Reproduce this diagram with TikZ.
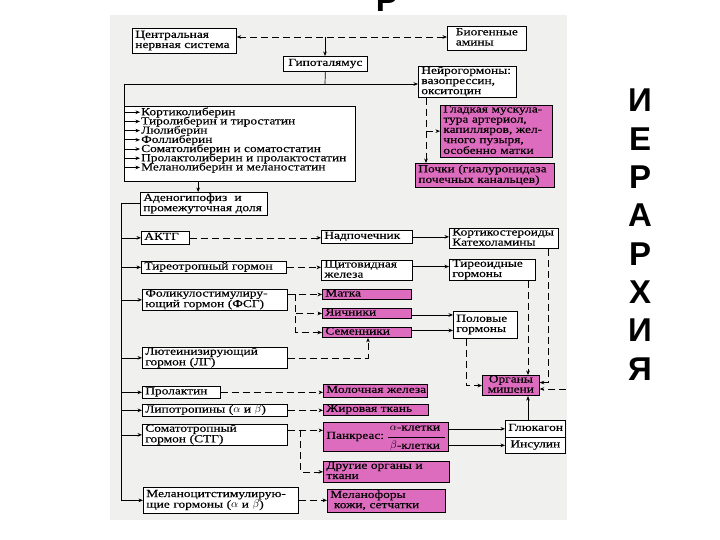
\documentclass[tikz,border=0pt]{standalone}
\usepackage{fontspec}
\setmainfont{Liberation Serif}[FakeStretch=1.24,FakeBold=0.25]
\newfontfamily\hfont{Liberation Sans}
\usetikzlibrary{arrows.meta,calc}
\definecolor{pinkc}{RGB}{222,108,190}
\definecolor{bgc}{RGB}{240,240,238}
\newcommand\dgfont{\fontsize{10.8}{10.2}\selectfont}
\newcommand\tb[1]{\begin{tabular}{@{}l@{}}#1\end{tabular}}
\newcommand\tbc[1]{\begin{tabular}{@{}c@{}}#1\end{tabular}}
\tikzset{
  basebox/.style={font=\dgfont, inner xsep=3pt, inner ysep=0pt, anchor=north west, align=left,
    draw=black, line width=0.7pt},
  bx/.style={basebox, fill=white},
  pbx/.style={basebox, fill=pinkc},
  txt/.style={font=\dgfont, inner sep=0pt, anchor=west},
  listtxt/.style={font=\fontsize{10.8}{9.2}\selectfont, inner sep=0pt, anchor=north west, align=left},
  big/.style={font=\hfont\bfseries\fontsize{33}{33}\selectfont, inner sep=0pt, anchor=base},
  arr/.style={-{Stealth[length=4.5pt,width=3.6pt]}},
  dsh/.style={dash pattern=on 7pt off 4pt},
  ln/.style={line width=0.7pt}
}
\begin{document}
\begin{tikzpicture}[x=1pt,y=-1pt]
\useasboundingbox (0,0) rectangle (720,540);
\fill[white] (0,0) rectangle (720,540);
\fill[bgc] (110,15) rectangle (567,520);

% headings
\node[big] (tp) at (387,12) {Р};
\foreach \l [count=\i from 0] in {И,Е,Р,А,Р,Х,И,Я}
  \node[big] (v\i) at (640,112+38.3*\i) {\l};

% boxes
\node[bx, text width=98pt, minimum height=25pt] (cns) at (132,28) {\tb{Центральная\\нервная система}};
\node[bx, text width=73pt, minimum height=24pt, align=center] (bio) at (447,26) {\tb{Биогенные\\амины}};
\node[bx, text width=78pt, minimum height=15pt, align=center] (hyp) at (283,56) {\tb{Гипоталямус}};
\node[bx, text width=92pt, minimum height=31pt] (neuro) at (418,66) {\tb{Нейрогормоны:\\вазопрессин,\\окситоцин}};
\node[pbx, text width=106pt, minimum height=50pt] (smooth) at (440,105) {\tb{Гладкая мускула-\\тура артериол,\\капилляров, жел-\\чного пузыря,\\особенно матки}};
\node[pbx, text width=133pt, minimum height=24pt] (kidney) at (415,163) {\tb{Почки (гиалуронидаза\\почечных канальцев)}};
\node[bx, text width=225pt, minimum height=75pt] (lib) at (124,106) {};
\node[listtxt] (libt) at (141,108.6) {\tb{\smash{Кортиколиберин}\\\smash{Тиролиберин и тиростатин}\\\smash{Люлиберин}\\\smash{Фоллиберин}\\\smash{Соматолиберин и соматостатин}\\\smash{Пролактолиберин и пролактостатин}\\\smash{Меланолиберин и меланостатин}}};
\foreach \i in {0,...,6}
  \coordinate (r\i) at ($(libt.north west)+(0,{3.64+9.2*\i})$);
\node[bx, text width=121pt, minimum height=23pt] (adeno) at (140,192) {\tb{Аденогипофиз\ \ и\\промежуточная доля}};

\node[bx, text width=42pt, minimum height=13pt] (aktg) at (141,231) {\tb{АКТГ}};
\node[bx, text width=139pt, minimum height=12pt] (tsh) at (141,261) {\tb{Тиреотропный гормон}};
\node[bx, text width=139pt, minimum height=21pt] (fsh) at (142,289) {\tb{Фоликулостимулиру-\\ющий гормон (ФСГ)}};
\node[bx, text width=139pt, minimum height=21pt] (lh) at (142,347) {\tb{Лютеинизирующий\\гормон (ЛГ)}};
\node[bx, text width=72pt, minimum height=12pt] (prl) at (142,386) {\tb{Пролактин}};
\node[bx, text width=139pt, minimum height=12pt] (lipo) at (142,404) {\tb{Липотропины ($\alpha$ и $\beta$)}};
\node[bx, text width=139pt, minimum height=21pt] (stg) at (142,424) {\tb{Соматотропный\\гормон (СТГ)}};
\node[bx, text width=149pt, minimum height=26pt] (msh) at (143,487) {\tb{Меланоцитстимулирую-\\щие гормоны ($\alpha$ и $\beta$)}};

\node[bx, text width=85pt, minimum height=13pt] (adr) at (321,230) {\tb{Надпочечник}};
\node[bx, text width=85pt, minimum height=20pt] (thy) at (321,260) {\tb{Щитовидная\\железа}};
\node[bx, text width=103pt, minimum height=20pt] (cort) at (449,228) {\tb{Кортикостероиды\\Катехоламины}};
\node[bx, text width=80pt, minimum height=21pt] (thh) at (449,259) {\tb{Тиреоидные\\гормоны}};
\node[pbx, text width=83pt, minimum height=10pt] (uter) at (322,289) {\tb{Матка}};
\node[pbx, text width=83pt, minimum height=10pt] (ovar) at (322,308) {\tb{Яичники}};
\node[pbx, text width=83pt, minimum height=10pt] (test) at (322,327) {\tb{Семенники}};
\node[bx, text width=58pt, minimum height=27pt] (sex) at (453,311) {\tb{Половые\\гормоны}};
\node[pbx, text width=51pt, minimum height=20pt, align=center] (targ) at (482,375) {\tbc{Органы\\мишени}};
\node[pbx, text width=98pt, minimum height=13pt] (milk) at (323,384) {\tb{Молочная железа}};
\node[pbx, text width=99pt, minimum height=11pt] (fat) at (323,404) {\tb{Жировая ткань}};
\node[pbx, text width=119pt, minimum height=29pt] (panc) at (323,422) {\tb{Панкреас:}};
\node[txt, anchor=center] (pa) at (415,428) {$\alpha$-клетки};
\node[txt, anchor=center] (pb) at (415,446) {$\beta$-клетки};
\node[bx, text width=54pt, minimum height=17pt, align=center] (glu) at (505,420) {\tb{Глюкагон}};
\node[bx, text width=54pt, minimum height=16pt, align=center] (ins) at (505,437) {\tb{Инсулин}};
\node[pbx, text width=120pt, minimum height=21pt] (other) at (323,461) {\tb{Другие органы и\\ткани}};
\node[pbx, text width=112pt, minimum height=23pt] (melan) at (327,489) {\tb{Меланофоры\\\ кожи, сетчатки}};

\draw[ln] ($(panc.east)+(-4,0)$) -- ($(panc.east)+(-61,0)$);

% connectors top
\coordinate (dl) at (325,37);
\draw[ln, dsh, {Stealth[length=4.5pt,width=3.6pt]}-{Stealth[length=4.5pt,width=3.6pt]}] (cns.east |- dl) -- (bio.west |- dl);
\draw[ln, arr] (dl) -- (dl |- hyp.north);
\coordinate (j1) at (325,84);
\coordinate (j0) at (124,84);
\draw[ln] (hyp.south) -- (j1);
\draw[ln, arr] (j0) -- (j0 -| neuro.west);
\draw[ln] (j0) -- (lib.north west);
\foreach \i in {0,...,6}
  \draw[ln, arr] (lib.west |- r\i) -- ($(r\i)+(-1,0)$);
\coordinate (la) at ($(lib.south west)!0.32!(lib.south east)$);
\draw[ln, arr] (la) -- (la |- adeno.north);

% neurohormones
\coordinate (n0) at ($(neuro.south west)+(8,0)$);
\draw[ln, dsh, arr] (n0) -- (n0 |- kidney.north);
\draw[ln, dsh, arr] (n0 |- smooth.west) -- (smooth.west);

% bus
\coordinate (b0) at ($(adeno.west)+(-19,0)$);
\coordinate (b1) at (b0 |- msh.west);
\draw[ln, arr] (adeno.west) -- (b0) -- (b1) -- (msh.west);
\foreach \n in {aktg,tsh,fsh,lh,prl,lipo,stg}
  \draw[ln, arr] (b0 |- \n.west) -- (\n.west);

% middle
\draw[ln, dsh, arr] (aktg.east) -- (aktg.east -| adr.west);
\draw[ln, dsh, arr] (tsh.east) -- (tsh.east -| thy.west);
\draw[ln, arr] (adr.east) -- (adr.east -| cort.west);
\draw[ln, arr] ($(thy.east)+(0,-4)$) -- ($(thy.east -| thh.west)+(0,-4)$);

\coordinate (f0) at (fsh.east |- uter.west);
\coordinate (fv) at ($(f0)+(8,0)$);
\draw[ln, dsh, arr] (f0) -- (uter.west);
\draw[ln, dsh, arr] (fv) |- (test.west);
\draw[ln, dsh, arr] (fv |- ovar.west) -- (ovar.west);
\coordinate (ts) at ($(test.south west)+(46,0)$);
\draw[ln, dsh, arr] (lh.east) -| (ts);

\draw[ln, arr] ($(ovar.east)+(0,1.5)$) -- ($(ovar.east -| sex.west)+(0,1.5)$);
\draw[ln, arr] ($(test.east)+(0,-2)$) -- ($(test.east -| sex.west)+(0,-2)$);

% targets
\coordinate (s0) at ($(sex.south west)+(13,0)$);
\draw[ln, dsh, arr] (s0) |- (targ.west);
\coordinate (t0) at ($(thh.south west)+(79,0)$);
\draw[ln, dsh, arr] (t0) -- (t0 |- targ.north);
\coordinate (c0) at ($(cort.south west)+(99,0)$);
\draw[ln, dsh, arr] (c0) |- ($(targ.east)+(0,-3)$);
\coordinate (rr) at (566,389);
\draw[ln, dsh, arr] (rr) -- (rr -| targ.east);
\draw[ln, arr] (t0 |- glu.north) -- (t0 |- targ.south);

\draw[ln, dsh, arr] (prl.east) -- (prl.east -| milk.west);
\draw[ln, dsh, arr] (lipo.east) -- (lipo.east -| fat.west);
\coordinate (se) at ($(stg.east)+(0,-4.5)$);
\coordinate (sv) at ($(se)+(13,0)$);
\draw[ln, dsh, arr] (se) -- (se -| panc.west);
\draw[ln, dsh, arr] (sv) |- (other.west);
\draw[ln, arr] (panc.east |- glu.west) -- (glu.west);
\draw[ln, arr] (panc.east |- ins.west) -- (ins.west);
\draw[ln, dsh, arr] (msh.east) -- (msh.east -| melan.west);
\end{tikzpicture}
\end{document}
